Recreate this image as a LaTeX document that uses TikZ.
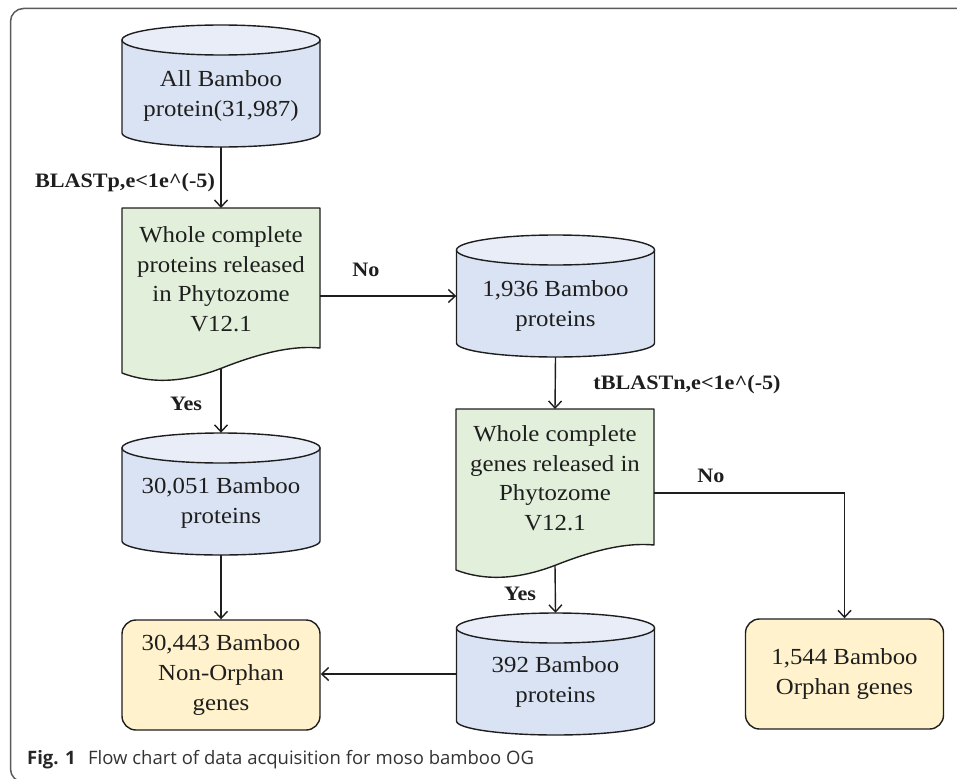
\documentclass[tikz,border=0pt]{standalone}
\usepackage{fontspec}
\setmainfont{Liberation Serif}[FakeStretch=1.08]
\newfontfamily\capfont{Open Sans}
\usetikzlibrary{arrows.meta}
\definecolor{linec}{HTML}{1E1E1E}
\definecolor{cylbodyc}{HTML}{DAE3F3}
\definecolor{cyltopc}{HTML}{E8EDF8}
\definecolor{docc}{HTML}{E2EFDA}
\definecolor{boxc}{HTML}{FFF2CC}
\definecolor{framec}{HTML}{5A5A5A}
\tikzset{
  x=1pt, y=-1pt,
  shp/.style={draw=linec, line width=1.4pt},
  cylbody/.style={shp, fill=cylbodyc},
  cyltop/.style={shp, fill=cyltopc},
  docbox/.style={shp, fill=docc, line join=round},
  endbox/.style={shp, fill=boxc, rounded corners=14pt, minimum width=198pt, minimum height=110pt, inner sep=0pt, align=center, font=\fontsize{23}{30}\selectfont, text=linec},
  holder/.style={minimum width=198pt, minimum height=122pt, inner sep=0pt},
  txt/.style={align=center, font=\fontsize{23}{29.5}\selectfont, text=linec, inner sep=0pt},
  lbl/.style={font=\fontsize{20.5}{23}\selectfont\bfseries, text=linec, inner sep=0pt},
  arr/.style={draw=linec, line width=1.4pt, -{Straight Barb[length=7pt,width=13pt,line width=1.4pt]}}
}
\newcommand{\cylinderdraw}[2]{% cx, top
  \filldraw[cylbody] ({#1-99},{#2+15}) -- ({#1-99},{#2+108}) arc[start angle=180,end angle=360,x radius=99pt,y radius=14pt] -- ({#1+99},{#2+15}) -- cycle;
  \filldraw[cyltop] (#1,{#2+15}) ellipse[x radius=99pt,y radius=15pt];
}
\newcommand{\documentdraw}[3]{% cx, top, h
  \filldraw[docbox] ({#1-99},#2) -- ({#1+99},#2) -- ({#1+99},{#2+#3})
    .. controls ({#1+69},{#2+#3-3}) and ({#1+34},{#2+#3+7}) .. ({#1+1},{#2+#3+20})
    .. controls ({#1-30},{#2+#3+32}) and ({#1-65},{#2+#3+38}) .. ({#1-99},{#2+#3+25}) -- cycle;
}
\begin{document}
\begin{tikzpicture}
\useasboundingbox (0,0) rectangle (957,778);
\clip (0,0) rectangle (957,778);
% frame
\draw[framec, line width=1.5pt, rounded corners=13pt] (10.5,8.5) rectangle (1000,782);

% shapes
\cylinderdraw{221}{25}
\node[holder] (c1) at (221,86) {};
\node[txt] (c1t) at (221,96) {All Bamboo\\protein(31,987)};

\documentdraw{221}{208}{140}
\node[txt] (d1t) at (221,279) {Whole complete\\proteins released\\in Phytozome\\V12.1};
\coordinate (d1n) at (221,208);
\coordinate (d1r) at (320,296);
\coordinate (d1b) at (221,368);

\cylinderdraw{555.5}{235}
\node[holder] (c2) at (555.5,296) {};
\node[txt] (c2t) at (555.5,306) {1,936 Bamboo\\proteins};

\documentdraw{555}{409}{136}
\node[txt] (d2t) at (555,478) {Whole complete\\genes released in\\Phytozome\\V12.1};
\coordinate (d2n) at (555,409);
\coordinate (d2r) at (654,493);
\coordinate (d2b) at (555,565);

\cylinderdraw{221}{433}
\node[holder] (c3) at (221,494) {};
\node[txt] (c3t) at (221,503) {30,051 Bamboo\\proteins};

\cylinderdraw{555.5}{613}
\node[holder] (c4) at (555.5,674) {};
\node[txt] (c4t) at (555.5,682) {392 Bamboo\\proteins};

\node[endbox] (b1) at (221,675) {30,443 Bamboo\\Non-Orphan\\genes};
\node[endbox] (b2) at (844.5,674) {1,544 Bamboo\\Orphan genes};

% connectors
\draw[arr] (c1.south) -- (d1n);
\draw[arr] (d1r) -- (d1r -| c2.west);
\draw[arr] (d1b) -- (c3.north);
\draw[arr] (c2.south) -- (d2n);
\draw[arr] (d2r) -| (b2.north);
\draw[arr] (d2b) -- (c4.north);
\draw[arr] (c3.south) -- (b1.north);
\draw[arr] (c4.west) -- (b1.east |- c4.west);

% labels
\node[lbl] (l1) at (125,183) {BLASTp,e<1e\textasciicircum(-5)};
\node[lbl] (l2) at (366,270) {No};
\node[lbl] (l3) at (186,404) {Yes};
\node[lbl] (l4) at (687,385) {tBLASTn,e<1e\textasciicircum(-5)};
\node[lbl] (l5) at (711,476) {No};
\node[lbl] (l6) at (520,594) {Yes};

% caption
\node[anchor=base west, inner sep=0pt, font=\capfont\fontsize{18.5}{20}\selectfont\bfseries, text=black!85] (capa) at (27,764) {Fig. 1};
\node[anchor=base west, inner sep=0pt, font=\capfont\fontsize{18.5}{20}\selectfont, text=black!80] (capb) at (88,764) {Flow chart of data acquisition for moso bamboo OG};
\end{tikzpicture}
\end{document}
